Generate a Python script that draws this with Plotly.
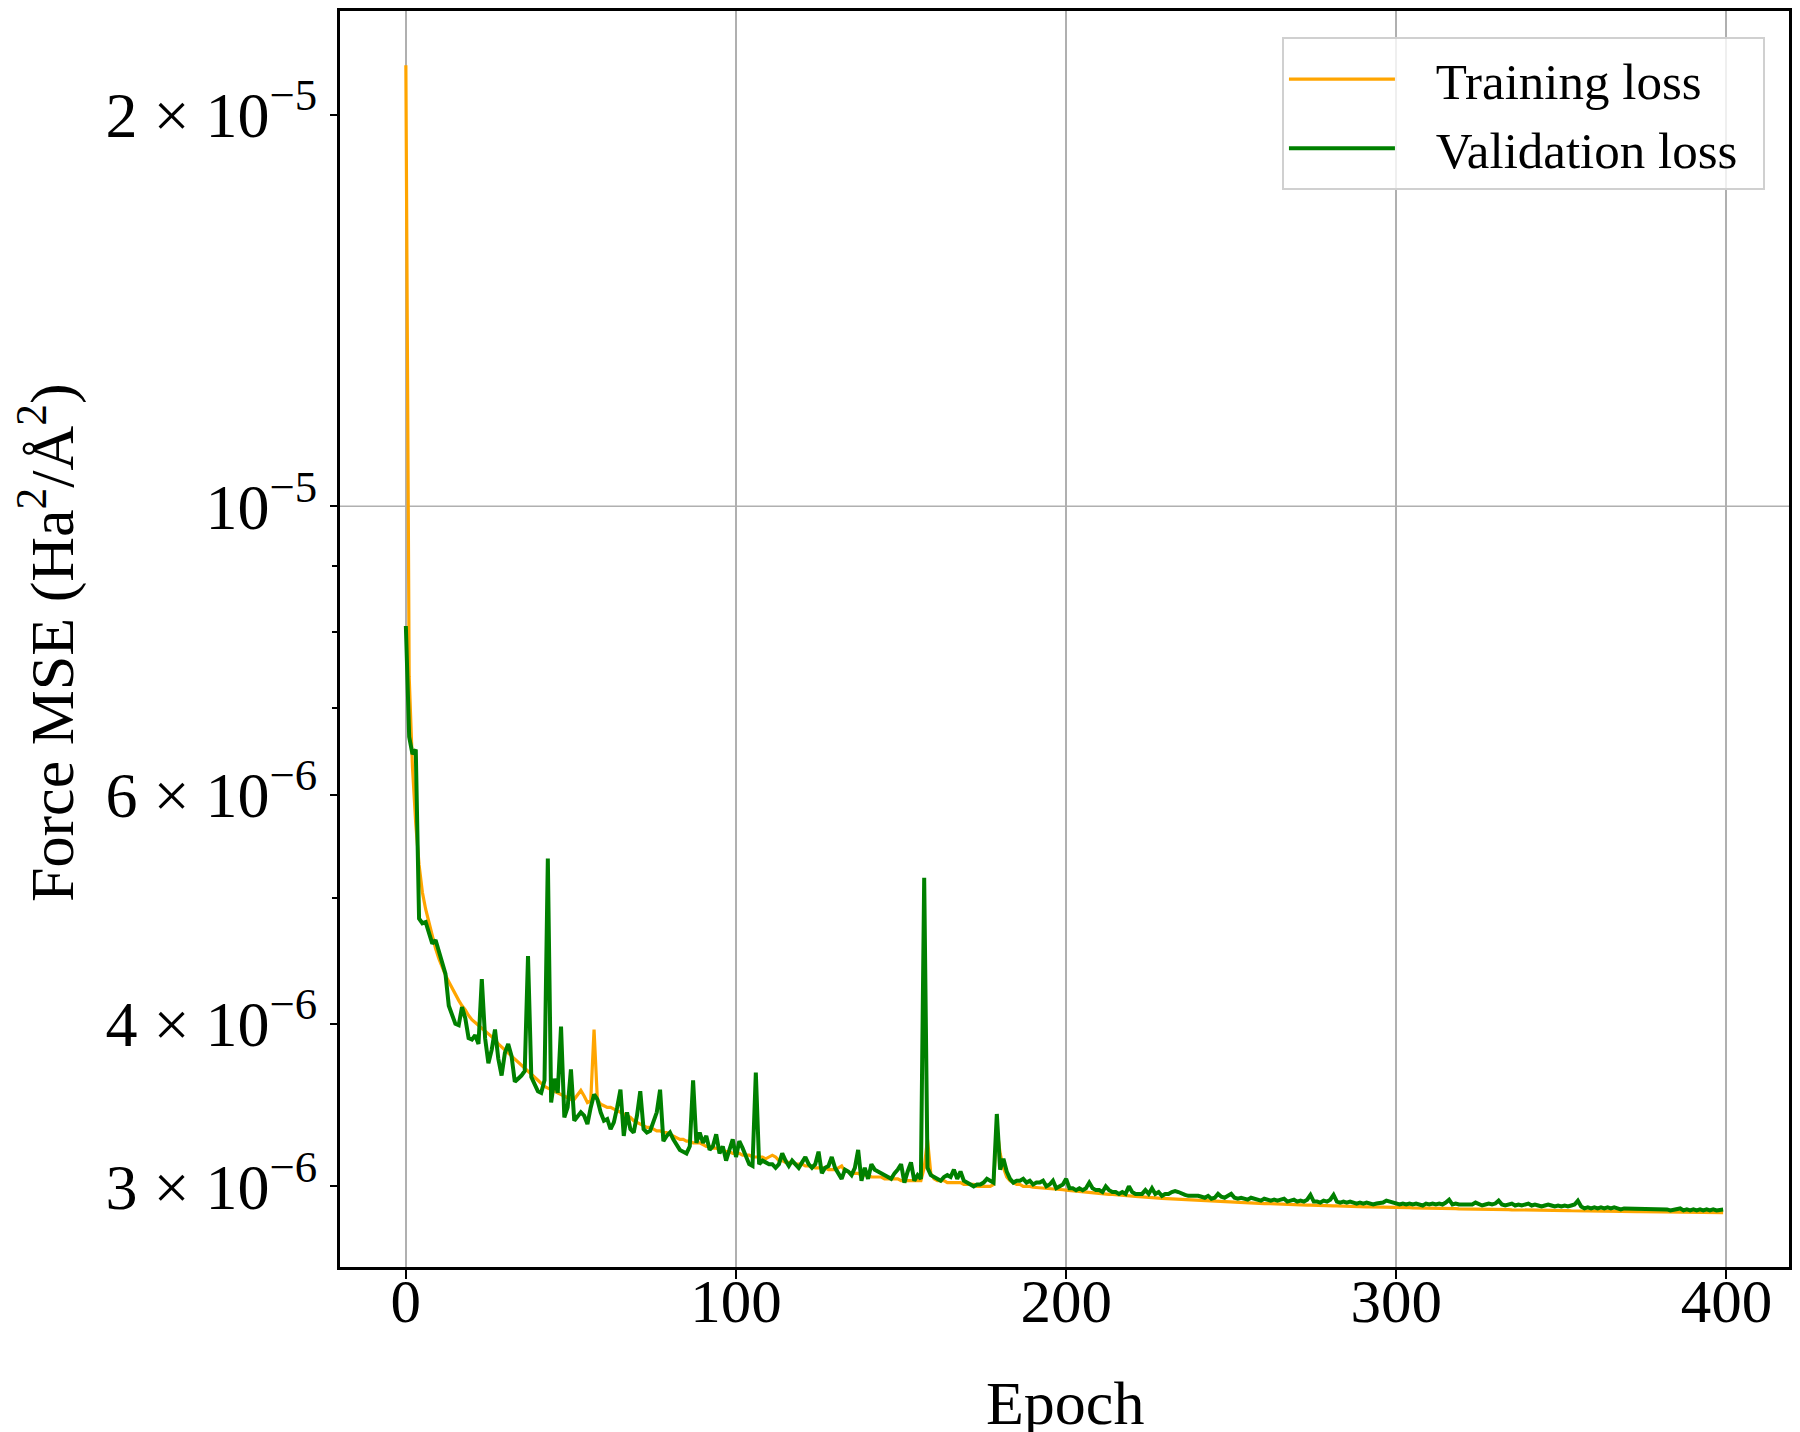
import plotly.graph_objects as go

# Epoch index (x categories)
epochs = list(range(400))

# Training loss (units of 1e-6 Ha^2/Å^2)
train_loss_e6 = [
    21.84, 7.40, 6.30, 5.70, 5.30, 5.05, 4.90, 4.78, 4.67, 4.57,
    4.49, 4.42, 4.36, 4.31, 4.26, 4.22, 4.17, 4.13, 4.10, 4.06,
    4.03, 4.01, 3.99, 3.97, 3.95, 3.93, 3.91, 3.89, 3.86, 3.84,
    3.82, 3.80, 3.78, 3.76, 3.74, 3.72, 3.70, 3.68, 3.66, 3.64,
    3.62, 3.60, 3.58, 3.57, 3.56, 3.55, 3.54, 3.53, 3.52, 3.51,
    3.50, 3.50, 3.53, 3.555, 3.52, 3.48, 3.49, 3.96, 3.50, 3.47,
    3.46, 3.45, 3.45, 3.44, 3.43, 3.42, 3.41, 3.40, 3.39, 3.37,
    3.36, 3.35, 3.34, 3.33, 3.33, 3.32, 3.31, 3.31, 3.30, 3.30,
    3.29, 3.28, 3.27, 3.26, 3.26, 3.25, 3.25, 3.24, 3.24, 3.24,
    3.23, 3.22, 3.22, 3.21, 3.21, 3.20, 3.20, 3.19, 3.19, 3.18,
    3.18, 3.18, 3.17, 3.17, 3.17, 3.16, 3.16, 3.16, 3.16, 3.15,
    3.16, 3.17, 3.16, 3.14, 3.14, 3.13, 3.13, 3.13, 3.12, 3.12,
    3.12, 3.11, 3.11, 3.11, 3.10, 3.10, 3.10, 3.10, 3.09, 3.09,
    3.09, 3.10, 3.11, 3.08, 3.08, 3.07, 3.07, 3.07, 3.06, 3.06,
    3.06, 3.05, 3.05, 3.05, 3.05, 3.04, 3.04, 3.04, 3.04, 3.04,
    3.03, 3.03, 3.03, 3.03, 3.03, 3.03, 3.03, 3.10, 3.26, 3.07,
    3.04, 3.03, 3.03, 3.03, 3.02, 3.02, 3.02, 3.02, 3.02, 3.01,
    3.01, 3.01, 3.01, 3.00, 3.00, 3.00, 3.00, 3.00, 3.01, 3.33,
    3.18, 3.10, 3.05, 3.03, 3.02, 3.01, 3.01, 3.00, 3.00, 3.00,
    2.995, 2.994, 2.992, 2.990, 2.989, 2.988, 2.986, 2.985, 2.983, 2.982,
    2.980, 2.978, 2.976, 2.975, 2.973, 2.971, 2.970, 2.968, 2.966, 2.965,
    2.963, 2.962, 2.960, 2.958, 2.957, 2.955, 2.954, 2.952, 2.951, 2.950,
    2.948, 2.947, 2.946, 2.944, 2.943, 2.942, 2.940, 2.939, 2.938, 2.937,
    2.936, 2.935, 2.934, 2.933, 2.932, 2.931, 2.930, 2.929, 2.928, 2.927,
    2.926, 2.925, 2.924, 2.923, 2.923, 2.922, 2.921, 2.920, 2.919, 2.918,
    2.918, 2.917, 2.916, 2.915, 2.915, 2.914, 2.913, 2.912, 2.912, 2.911,
    2.910, 2.910, 2.909, 2.908, 2.908, 2.907, 2.906, 2.906, 2.905, 2.905,
    2.904, 2.903, 2.903, 2.902, 2.902, 2.901, 2.901, 2.900, 2.900, 2.899,
    2.899, 2.898, 2.898, 2.897, 2.897, 2.896, 2.896, 2.895, 2.895, 2.894,
    2.894, 2.893, 2.893, 2.893, 2.892, 2.892, 2.891, 2.893, 2.892, 2.891,
    2.890, 2.890, 2.889, 2.889, 2.889, 2.888, 2.888, 2.887, 2.887, 2.887,
    2.886, 2.886, 2.886, 2.885, 2.885, 2.885, 2.884, 2.884, 2.884, 2.883,
    2.883, 2.883, 2.882, 2.882, 2.882, 2.881, 2.881, 2.881, 2.880, 2.880,
    2.880, 2.880, 2.879, 2.879, 2.879, 2.878, 2.878, 2.878, 2.877, 2.877,
    2.877, 2.877, 2.876, 2.876, 2.876, 2.875, 2.875, 2.875, 2.875, 2.874,
    2.874, 2.874, 2.874, 2.873, 2.873, 2.873, 2.873, 2.872, 2.872, 2.872,
    2.872, 2.871, 2.871, 2.871, 2.871, 2.870, 2.870, 2.870, 2.870, 2.869,
    2.869, 2.869, 2.869, 2.869, 2.868, 2.868, 2.868, 2.868, 2.868, 2.867,
    2.867, 2.867, 2.867, 2.867, 2.866, 2.866, 2.866, 2.866, 2.866, 2.866,
    2.865, 2.865, 2.865, 2.865, 2.865, 2.865, 2.864, 2.864, 2.864, 2.864,
]

# Validation loss (units of 1e-6 Ha^2/Å^2)
val_loss_e6 = [
    8.09, 6.65, 6.45, 6.50, 4.82, 4.78, 4.79, 4.70, 4.61, 4.64,
    4.55, 4.45, 4.37, 4.13, 4.06, 4.00, 3.99, 4.12, 4.04, 3.90,
    3.89, 3.92, 3.86, 4.33, 3.90, 3.73, 3.82, 3.96, 3.76, 3.65,
    3.80, 3.86, 3.78, 3.61, 3.63, 3.65, 3.68, 4.51, 3.64, 3.60,
    3.55, 3.54, 3.62, 5.36, 3.48, 3.63, 3.54, 3.98, 3.39, 3.45,
    3.69, 3.37, 3.40, 3.42, 3.40, 3.35, 3.45, 3.53, 3.50, 3.42,
    3.37, 3.38, 3.32, 3.36, 3.45, 3.56, 3.28, 3.42, 3.32, 3.30,
    3.40, 3.55, 3.32, 3.30, 3.31, 3.36, 3.42, 3.56, 3.25, 3.28,
    3.30, 3.26, 3.23, 3.20, 3.19, 3.18, 3.22, 3.62, 3.24, 3.30,
    3.24, 3.28, 3.20, 3.22, 3.29, 3.18, 3.22, 3.14, 3.20, 3.26,
    3.16, 3.25, 3.21, 3.16, 3.12, 3.11, 3.67, 3.12, 3.14, 3.13,
    3.12, 3.12, 3.10, 3.12, 3.18, 3.14, 3.11, 3.14, 3.12, 3.10,
    3.13, 3.16, 3.12, 3.10, 3.12, 3.19, 3.07, 3.10, 3.11, 3.16,
    3.10, 3.07, 3.04, 3.09, 3.08, 3.06, 3.10, 3.20, 3.03, 3.10,
    3.04, 3.12, 3.09, 3.08, 3.07, 3.06, 3.05, 3.04, 3.07, 3.09,
    3.12, 3.02, 3.08, 3.13, 3.03, 3.06, 3.04, 5.18, 3.10, 3.06,
    3.05, 3.04, 3.03, 3.05, 3.06, 3.05, 3.09, 3.04, 3.08, 3.03,
    3.02, 3.01, 3.00, 3.01, 3.01, 3.02, 3.04, 3.03, 3.02, 3.41,
    3.09, 3.15, 3.08, 3.04, 3.02, 3.03, 3.03, 3.04, 3.02, 3.03,
    3.01, 3.02, 3.02, 3.03, 3.00, 3.01, 3.03, 2.99, 3.00, 3.01,
    3.04, 2.99, 2.99, 2.98, 2.99, 2.98, 2.99, 3.02, 2.99, 2.98,
    2.98, 2.97, 3.00, 2.98, 2.97, 2.97, 2.96, 2.97, 2.96, 3.00,
    2.97, 2.96, 2.96, 2.96, 2.98, 2.96, 2.99, 2.96, 2.97, 2.95,
    2.96, 2.96, 2.97, 2.975, 2.97, 2.96, 2.955, 2.95, 2.95, 2.955,
    2.95, 2.945, 2.94, 2.95, 2.935, 2.94, 2.96, 2.945, 2.94, 2.95,
    2.96, 2.94, 2.935, 2.94, 2.935, 2.93, 2.94, 2.935, 2.93, 2.925,
    2.935, 2.93, 2.925, 2.93, 2.925, 2.93, 2.935, 2.92, 2.925, 2.93,
    2.92, 2.925, 2.92, 2.93, 2.955, 2.92, 2.92, 2.915, 2.925, 2.92,
    2.93, 2.955, 2.92, 2.915, 2.92, 2.915, 2.92, 2.915, 2.91, 2.915,
    2.91, 2.915, 2.91, 2.905, 2.91, 2.91, 2.915, 2.925, 2.92, 2.915,
    2.905, 2.905, 2.91, 2.905, 2.91, 2.905, 2.91, 2.905, 2.90, 2.91,
    2.905, 2.91, 2.905, 2.91, 2.905, 2.915, 2.93, 2.905, 2.91, 2.905,
    2.905, 2.91, 2.91, 2.905, 2.915, 2.905, 2.90, 2.905, 2.91, 2.905,
    2.91, 2.925, 2.905, 2.90, 2.905, 2.91, 2.90, 2.905, 2.90, 2.905,
    2.91, 2.90, 2.905, 2.90, 2.895, 2.90, 2.905, 2.90, 2.895, 2.90,
    2.895, 2.90, 2.895, 2.90, 2.905, 2.925, 2.895, 2.885, 2.89, 2.885,
    2.89, 2.885, 2.89, 2.885, 2.89, 2.885, 2.89, 2.885, 2.88, 2.885,
    2.885, 2.88, 2.885, 2.88, 2.885, 2.885, 2.88, 2.885, 2.88, 2.885,
    2.88, 2.885, 2.88, 2.875, 2.88, 2.88, 2.885, 2.875, 2.88, 2.875,
    2.88, 2.875, 2.88, 2.875, 2.88, 2.875, 2.88, 2.875, 2.875, 2.88,
]

# Axis tick values / labels
x_tickvals = [0, 100, 200, 300, 400]
y_tickvals = [3e-6, 4e-6, 6e-6, 1e-5, 2e-5]
y_ticktext = ["3 × 10<sup>−6</sup>", "4 × 10<sup>−6</sup>", "6 × 10<sup>−6</sup>",
              "10<sup>−5</sup>", "2 × 10<sup>−5</sup>"]
y_minor_tickvals = [5e-6, 7e-6, 8e-6, 9e-6]

series_names = ["Training loss", "Validation loss"]
x_title = "Epoch"
y_title = "Force MSE (Ha<sup>2</sup>/Å<sup>2</sup>)"

SCALE = 1e-6
train_loss = [v * SCALE for v in train_loss_e6]
val_loss = [v * SCALE for v in val_loss_e6]

FONT = "Liberation Serif"
GAP = "\u2002\u2009"    # visual gap between legend line sample and label
TAIL = "\u2009\u2009"   # right padding inside legend box

fig = go.Figure()
fig.add_trace(go.Scatter(x=epochs, y=train_loss, mode="lines",
                         name=GAP + series_names[0] + TAIL,
                         line=dict(color="#FFA500", width=3.2)))
fig.add_trace(go.Scatter(x=epochs, y=val_loss, mode="lines",
                         name=GAP + series_names[1] + TAIL,
                         line=dict(color="#008000", width=4)))

fig.add_shape(type="line", xref="paper", x0=0, x1=1, yref="y", y0=1e-5, y1=1e-5,
              line=dict(color="#b0b0b0", width=1.5), layer="below")

# Axis titles placed as paper-anchored text
fig.add_annotation(text=x_title, xref="paper", yref="paper", x=0.5, y=-0.0796,
                   xanchor="center", yanchor="top", showarrow=False,
                   font=dict(family=FONT, size=62, color="black"))
fig.add_annotation(text=y_title, xref="paper", yref="paper", x=-0.1734, y=0.497,
                   xanchor="right", yanchor="middle", showarrow=False, textangle=-90,
                   font=dict(family=FONT, size=62, color="black"))

# The page body adds an 8px offset; size the figure so the plot area lands
# at the reference position inside the 1800x1432 window.
fig.update_layout(
    width=1792, height=1424,
    margin=dict(l=332, r=11, t=3, b=165, autoexpand=False),
    paper_bgcolor="white", plot_bgcolor="white",
    font=dict(family=FONT, size=60, color="black"),
    showlegend=True,
    legend=dict(x=0.9834, y=0.979, xanchor="right", yanchor="top",
                bgcolor="rgba(255,255,255,0.8)", bordercolor="#d0d0d0", borderwidth=2,
                font=dict(family=FONT, size=51, color="black"), itemwidth=106),
    xaxis=dict(range=[-19.95, 418.95], tickmode="array", tickvals=x_tickvals,
               ticks="outside", ticklen=9, tickwidth=2, tickcolor="black",
               showline=True, linewidth=3, linecolor="black", mirror=True,
               showgrid=True, gridcolor="#b0b0b0", gridwidth=1.5, zeroline=False,
               automargin=False, ticklabelstandoff=-30,
               tickfont=dict(family=FONT, size=61, color="black")),
    yaxis=dict(type="log", range=[-5.5849, -4.6191], tickmode="array",
               tickvals=y_tickvals, ticktext=y_ticktext,
               ticks="outside", ticklen=7, tickwidth=2, tickcolor="black",
               showline=True, linewidth=3, linecolor="black", mirror=True,
               showgrid=False, zeroline=False, automargin=False,
               minor=dict(tickvals=y_minor_tickvals, ticks="outside", ticklen=5,
                          tickwidth=2, tickcolor="black", showgrid=False),
               tickfont=dict(family=FONT, size=64, color="black")),
)

fig.write_html("out.html")
